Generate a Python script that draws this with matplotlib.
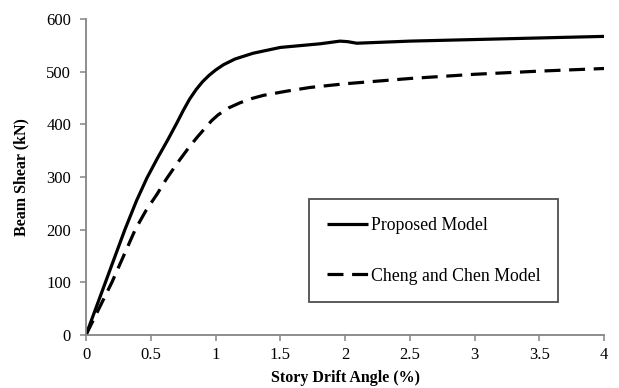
import matplotlib
matplotlib.use('Agg')
import matplotlib.pyplot as plt

plt.rcParams['font.family'] = 'Liberation Serif'
plt.rcParams['xtick.direction'] = 'out'
plt.rcParams['ytick.direction'] = 'out'

# story drift angle (%) vs beam shear (kN)
drift_proposed = [0, 0.15, 0.30, 0.39, 0.47, 0.55, 0.63, 0.70, 0.75, 0.80, 0.85, 0.90,
                  0.95, 1.00, 1.06, 1.15, 1.29, 1.50, 1.81, 1.96, 2.02, 2.09,
                  2.50, 3.00, 3.50, 4.00]
shear_proposed = [0, 100, 200, 255, 298, 335, 370, 402, 426, 448, 466, 481,
                  493, 503, 513, 524, 535, 546, 553, 558, 557, 554,
                  558, 561, 564, 567]

drift_cheng = [0, 0.20, 0.38, 0.46, 0.55, 0.62, 0.71, 0.80, 0.86, 0.92, 0.97, 1.02,
               1.10, 1.19, 1.28, 1.37, 1.55, 1.73, 2.00, 2.50, 3.00, 3.50, 4.00]
shear_cheng = [0, 100, 200, 235, 268, 296, 328, 358, 376, 393, 407, 418,
               431, 441, 449, 455, 463, 470, 477, 487, 495, 501, 506]

fig = plt.figure(figsize=(6.19, 3.88), dpi=100)
ax = fig.add_axes([0.139, 0.137, 0.837, 0.814])

ax.plot(drift_proposed, shear_proposed, color='black', lw=2.3,
        solid_capstyle='butt', solid_joinstyle='round', label='Proposed Model')
ax.plot(drift_cheng, shear_cheng, color='black', lw=2.3, dashes=(5, 2.7),
        dash_capstyle='butt', label='Cheng and Chen Model')

ax.set_xlim(0, 4)
ax.set_ylim(0, 600)
ax.set_xticks([0, 0.5, 1, 1.5, 2, 2.5, 3, 3.5, 4])
ax.set_xticklabels(['0', '0.5', '1', '1.5', '2', '2.5', '3', '3.5', '4'])
ax.set_yticks(range(0, 601, 100))

for side in ['top', 'right']:
    ax.spines[side].set_visible(False)
for side in ['left', 'bottom']:
    ax.spines[side].set_color('#858585')
    ax.spines[side].set_linewidth(1.3)
ax.tick_params(axis='both', colors='#858585', length=4.3, width=1.1,
               labelsize=12, labelcolor='black')
ax.tick_params(axis='x', pad=4.3)
ax.tick_params(axis='y', pad=6.5)

ax.set_xlabel('Story Drift Angle (%)', fontsize=11.5, fontweight='bold')
ax.set_ylabel('Beam Shear (kN)', fontsize=11.5, fontweight='bold')
ax.xaxis.set_label_coords(0.5, -0.110)
ax.yaxis.set_label_coords(-0.110, 0.5)

leg = ax.legend(loc='upper left', bbox_to_anchor=(309 / 619, 1 - 199 / 388),
                bbox_transform=fig.transFigure, borderaxespad=0,
                fontsize=12.8, handlelength=2.3, handletextpad=0.17,
                labelspacing=1.9, borderpad=1.0, fancybox=False)
leg.get_frame().set_edgecolor('#222222')
leg.get_frame().set_linewidth(1.3)

fig.savefig('out.png', dpi=100)
